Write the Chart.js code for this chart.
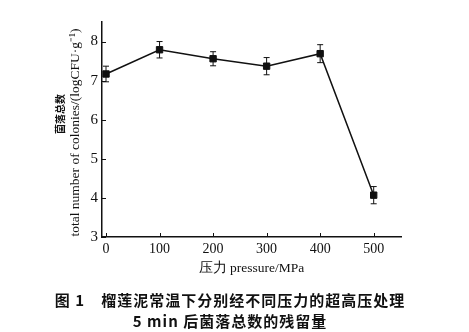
<!DOCTYPE html>
<html>
<head>
<meta charset="utf-8">
<script src="https://cdn.jsdelivr.net/npm/chart.js@4.4.0/dist/chart.umd.min.js"></script>
<style>
  html, body { margin: 0; padding: 0; background: #fff; }
  #wrap { position: relative; width: 469px; height: 332px; }
</style>
</head>
<body>
<div id="wrap"><canvas id="chart" width="469" height="332"></canvas></div>
<script>
// --- DATA ---
const pressures = [0, 100, 200, 300, 400, 500];
const colonies = [7.17, 7.79, 7.56, 7.37, 7.69, 4.07];
const errors = [0.2, 0.21, 0.18, 0.22, 0.23, 0.22];
const xTicks = [0, 100, 200, 300, 400, 500];
const yTicks = [3, 4, 5, 6, 7, 8];

const serif = '"Liberation Serif", "Times New Roman", serif';
const cjk = '"Noto Sans CJK SC", sans-serif';

// error bars with small caps
const errorBarPlugin = {
    id: 'errorBars',
    afterDatasetsDraw(chart) {
        const { ctx, scales: { x, y } } = chart;
        ctx.save();
        ctx.strokeStyle = '#111';
        ctx.lineWidth = 1;
        pressures.forEach((p, i) => {
            const px = x.getPixelForValue(p);
            const top = y.getPixelForValue(colonies[i] + errors[i]);
            const bot = y.getPixelForValue(colonies[i] - errors[i]);
            ctx.beginPath();
            ctx.moveTo(px, top); ctx.lineTo(px, bot);
            ctx.moveTo(px - 3, top); ctx.lineTo(px + 3, top);
            ctx.moveTo(px - 3, bot); ctx.lineTo(px + 3, bot);
            ctx.stroke();
        });
        ctx.restore();
    }
};

// inward ticks, y title, caption
const decoPlugin = {
    id: 'deco',
    afterDraw(chart) {
        const { ctx, chartArea, scales: { x, y } } = chart;
        ctx.save();
        ctx.strokeStyle = '#111';
        ctx.lineWidth = 1;
        ctx.beginPath();
        xTicks.forEach(t => {
            const px = Math.round(x.getPixelForValue(t)) + 0.5;
            ctx.moveTo(px, chartArea.bottom);
            ctx.lineTo(px, chartArea.bottom - 4);
        });
        yTicks.forEach(t => {
            const py = Math.round(y.getPixelForValue(t)) + 0.5;
            ctx.moveTo(chartArea.left, py);
            ctx.lineTo(chartArea.left + 4, py);
        });
        ctx.stroke();

        ctx.fillStyle = '#111';
        ctx.textAlign = 'center';
        ctx.textBaseline = 'middle';

        // y axis title, two rotated lines
        ctx.save();
        ctx.translate(60, 114);
        ctx.rotate(-Math.PI / 2);
        ctx.font = 'bold 10px ' + cjk;
        ctx.fillText('菌落总数', 0, 0);
        ctx.restore();
        ctx.save();
        ctx.translate(75, 132.5);
        ctx.rotate(-Math.PI / 2);
        ctx.font = '13.5px ' + serif;
        ctx.fillText('total number of colonies/(logCFU·g⁻¹)', 0, 0);
        ctx.restore();

        // caption
        ctx.font = 'bold 15px ' + cjk;
        ctx.letterSpacing = '1px';
        ctx.fillText('图 1\u3000榴莲泥常温下分别经不同压力的超高压处理', 230, 300);
        ctx.fillText('5 min 后菌落总数的残留量', 230, 321);
        ctx.restore();
    }
};

new Chart(document.getElementById('chart'), {
    type: 'line',
    data: {
        datasets: [{
            data: pressures.map((p, i) => ({ x: p, y: colonies[i] })),
            borderColor: '#111',
            borderWidth: 1.5,
            backgroundColor: '#111',
            pointStyle: 'rect',
            pointRadius: 4.5,
            pointBorderWidth: 1,
            pointBackgroundColor: '#111',
            tension: 0
        }]
    },
    options: {
        responsive: false,
        animation: false,
        layout: { padding: { top: 22, right: 68, bottom: 50, left: 0 } },
        plugins: { legend: { display: false }, tooltip: { enabled: false } },
        scales: {
            x: {
                type: 'linear',
                min: -7.5,
                max: 551,
                afterBuildTicks: s => { s.ticks = xTicks.map(v => ({ value: v })); },
                afterFit: s => { s.height = 45; },
                grid: { display: false, drawTicks: false, tickLength: 0 },
                border: { display: true, color: '#111', width: 1.5 },
                ticks: { color: '#111', font: { family: serif, size: 14 }, padding: 4 },
                title: {
                    display: true,
                    text: '压力 pressure/MPa',
                    color: '#111',
                    font: { family: serif, size: 13.5 },
                    padding: { top: 2, bottom: 5 }
                }
            },
            y: {
                min: 3,
                max: 8.5,
                afterBuildTicks: s => { s.ticks = yTicks.map(v => ({ value: v })); },
                afterFit: s => { s.width = 102; },
                grid: { display: false, drawTicks: false, tickLength: 0 },
                border: { display: true, color: '#111', width: 1.5 },
                ticks: { color: '#111', font: { family: serif, size: 15 }, padding: 4 }
            }
        }
    },
    plugins: [errorBarPlugin, decoPlugin]
});
</script>
</body>
</html>
